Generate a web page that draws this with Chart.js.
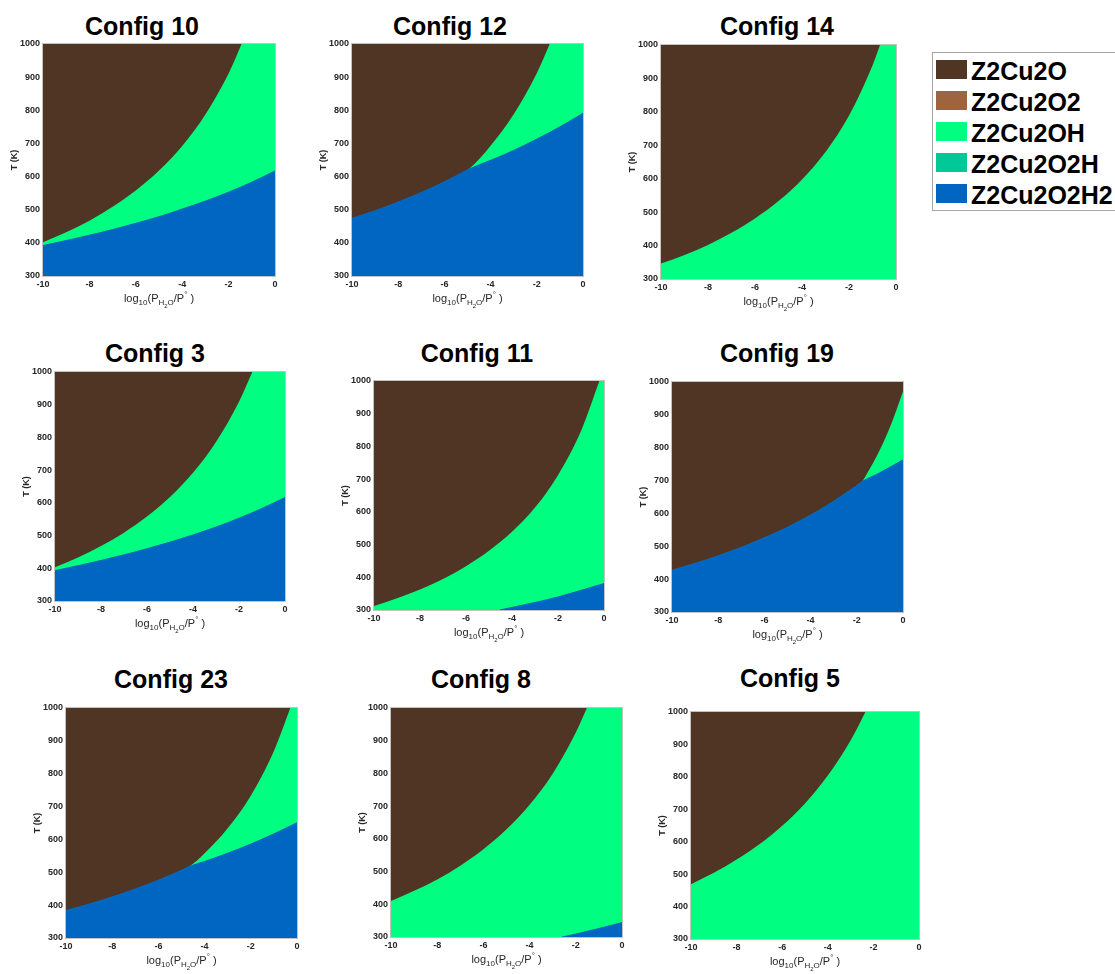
<!DOCTYPE html>
<html>
<head>
<meta charset="utf-8">
<title>Z2Cu2 phase diagrams</title>
<script src="https://cdn.jsdelivr.net/npm/chart.js"></script>
<style>
  body { margin: 0; background: #fff; width: 1115px; height: 974px; overflow: hidden; position: relative;
         font-family: "Liberation Sans", Arial, Helvetica, sans-serif; }
  canvas { position: absolute; }
  .title { position: absolute; width: 240px; text-align: center; font-weight: bold; font-size: 25px; line-height: 30px; color: #000; }
  #legend { position: absolute; left: 932px; top: 52px; width: 240px; height: 157px; border: 1px solid #a6a6a6; background: #fff; }
  .swatch { position: absolute; left: 3px; width: 31px; height: 19px; }
  .name { position: absolute; left: 38px; font-weight: bold; font-size: 25px; line-height: 30px; color: #000; white-space: nowrap; }
</style>
</head>
<body>
<div id="legend"></div>
<script>
// phases shown in the legend
const phases = ['Z2Cu2O', 'Z2Cu2O2', 'Z2Cu2OH', 'Z2Cu2O2H', 'Z2Cu2O2H2'];
const phaseColors = ['#503424', '#9e6440', '#00ff80', '#00c896', '#0066c2'];

// axis ranges
const logPRange = [-10, 0];
const tempRange = [300, 1000];

// phase boundaries, [log10(P_H2O/P°), T in K]
const c10_O_OH = [[-10, 402], [-9, 432], [-8, 467], [-7, 509], [-6, 558], [-5, 618], [-4, 692], [-3, 787], [-2, 911], [-1.44, 1000]];
const c10_OH_O2H2 = [[-10, 392], [-9, 407], [-8, 423], [-7, 440], [-6, 459], [-5, 479], [-4, 502], [-3, 526], [-2, 553], [-1, 583], [0, 617]];

const c12_O_O2H2 = [[-10, 474], [-9, 497], [-8, 523], [-7, 552], [-6, 584], [-4.96, 622]];
const c12_O_OH = [[-4.96, 622], [-4, 693], [-3, 788], [-2, 912], [-1.44, 1000]];
const c12_OH_O2H2 = [[-4.96, 622], [-4, 649], [-3, 679], [-2, 713], [-1, 750], [0, 791]];

const c14_O_OH = [[-10, 346], [-9, 372], [-8, 402], [-7, 438], [-6, 481], [-5, 533], [-4, 598], [-3, 680], [-2, 789], [-1, 939], [-0.68, 1000]];

const c3_O_OH = [[-10, 403], [-9, 433], [-8, 468], [-7, 509], [-6, 558], [-5, 618], [-4, 692], [-3, 786], [-2, 909], [-1.42, 1000]];
const c3_OH_O2H2 = [[-10, 393], [-9, 408], [-8, 424], [-7, 441], [-6, 460], [-5, 480], [-4, 502], [-3, 526], [-2, 553], [-1, 583], [0, 616]];

const c11_O_OH = [[-10, 312], [-9, 336], [-8, 363], [-7, 395], [-6, 434], [-5, 481], [-4, 539], [-3, 613], [-2, 712], [-1, 847], [-0.2, 1000]];
const c11_OH_O2H2 = [[-4.53, 300], [-4, 308], [-3, 323], [-2, 340], [-1, 360], [0, 381]];

const c19_O_O2H2 = [[-10, 427], [-9, 448], [-8, 471], [-7, 497], [-6, 526], [-5, 558], [-4, 595], [-3, 637], [-2, 685], [-1.77, 697]];
const c19_O_OH = [[-1.77, 697], [-1.5, 728], [-1, 794], [-0.5, 874], [0, 971]];
const c19_OH_O2H2 = [[-1.77, 697], [-1, 724], [0, 763]];

const c23_O_O2H2 = [[-10, 384], [-9, 403], [-8, 425], [-7, 449], [-6, 476], [-5, 506], [-4.65, 518]];
const c23_O_OH = [[-4.65, 518], [-4, 558], [-3, 634], [-2, 733], [-1, 869], [-0.29, 1000]];
const c23_OH_O2H2 = [[-4.65, 518], [-4, 533], [-3, 558], [-2, 586], [-1, 617], [0, 651]];

const c8_O_OH = [[-10, 410], [-9, 441], [-8, 476], [-7, 518], [-6, 568], [-5, 629], [-4, 704], [-3, 799], [-2, 925], [-1.52, 1000]];
const c8_OH_O2H2 = [[-2.6, 300], [-2, 309], [-1, 326], [0, 344]];

const c5_O_OH = [[-10, 469], [-9, 504], [-8, 545], [-7, 592], [-6, 649], [-5, 718], [-4, 804], [-3, 912], [-2.35, 1000]];

// join two boundaries that meet at a triple point into one edge
const join = (a, b) => a.concat(b.slice(1));

// Z2Cu2O lies above "top", Z2Cu2O2H2 below "bottom", Z2Cu2OH fills the rest
const panels = [
  { title: 'Config 10', top: c10_O_OH, bottom: c10_OH_O2H2 },
  { title: 'Config 12', top: join(c12_O_O2H2, c12_O_OH), bottom: join(c12_O_O2H2, c12_OH_O2H2) },
  { title: 'Config 14', top: c14_O_OH, bottom: null },
  { title: 'Config 3', top: c3_O_OH, bottom: c3_OH_O2H2 },
  { title: 'Config 11', top: c11_O_OH, bottom: c11_OH_O2H2 },
  { title: 'Config 19', top: join(c19_O_O2H2, c19_O_OH), bottom: join(c19_O_O2H2, c19_OH_O2H2) },
  { title: 'Config 23', top: join(c23_O_O2H2, c23_O_OH), bottom: join(c23_O_O2H2, c23_OH_O2H2) },
  { title: 'Config 8', top: c8_O_OH, bottom: c8_OH_O2H2 },
  { title: 'Config 5', top: c5_O_OH, bottom: null }
];

// page placement: plot left, right, top, bottom, title centre x, title centre y
const frames = [
  [43, 275, 44, 276, 142, 25.5],
  [352, 583, 44, 276, 450, 26],
  [661, 896, 45, 279, 777, 26],
  [55, 285, 372, 601, 155, 352.5],
  [374, 604, 381, 610, 477, 353],
  [672, 903, 382, 612, 777, 353],
  [66, 297, 708, 938, 171, 679],
  [391, 622, 708, 937, 481, 679],
  [691, 919, 712, 939, 790, 678]
];

const AXIS_W = 45, AXIS_H = 35, PAD_TOP = 10, PAD_RIGHT = 8;
const inkColor = '#262626';

// x axis title with sub/superscripts: log10(P_H2O/P°)
const pressureLabel = {
  id: 'pressureLabel',
  afterDraw(chart) {
    const { ctx, chartArea } = chart;
    const parts = [
      { t: 'log', s: 11, dy: 0 },
      { t: '10', s: 8, dy: 3 },
      { t: '(P', s: 11, dy: 0 },
      { t: 'H', s: 8, dy: 3 },
      { t: '2', s: 6, dy: 6 },
      { t: 'O', s: 8, dy: 3 },
      { t: '/P', s: 11, dy: 0 },
      { t: '°', s: 8, dy: -5 },
      { t: ' )', s: 11, dy: 0 }
    ];
    const font = s => s + 'px "Liberation Sans", Arial, sans-serif';
    ctx.save();
    let total = 0;
    parts.forEach(p => { ctx.font = font(p.s); p.w = ctx.measureText(p.t).width; total += p.w; });
    let x = (chartArea.left + chartArea.right) / 2 - total / 2;
    const base = chartArea.bottom + 26;
    ctx.fillStyle = inkColor;
    ctx.textBaseline = 'alphabetic';
    parts.forEach(p => {
      ctx.font = font(p.s);
      ctx.fillText(p.t, x, base + p.dy);
      x += p.w;
    });
    ctx.restore();
  }
};

// faint axes box
const plotFrame = {
  id: 'plotFrame',
  afterDatasetsDraw(chart) {
    const { ctx, chartArea: a } = chart;
    ctx.save();
    ctx.strokeStyle = 'rgba(170,170,170,0.7)';
    ctx.lineWidth = 1;
    ctx.strokeRect(a.left - 0.5, a.top - 0.5, a.right - a.left + 1, a.bottom - a.top + 1);
    ctx.restore();
  }
};

const toPoints = arr => arr.map(([x, y]) => ({ x, y }));

panels.forEach((panel, i) => {
  const [L, R, T, B, tx, ty] = frames[i];

  const title = document.createElement('div');
  title.className = 'title';
  title.textContent = panel.title;
  title.style.left = (tx - 120) + 'px';
  title.style.top = (ty - 14.75) + 'px';
  document.body.appendChild(title);

  const canvas = document.createElement('canvas');
  canvas.width = (R - L) + AXIS_W + PAD_RIGHT;
  canvas.height = (B - T) + PAD_TOP + AXIS_H;
  canvas.style.left = (L - AXIS_W) + 'px';
  canvas.style.top = (T - PAD_TOP) + 'px';
  document.body.appendChild(canvas);

  const datasets = [{
    label: phases[2],
    data: toPoints([[logPRange[0], tempRange[1]], [logPRange[1], tempRange[1]]]),
    fill: 'start',
    backgroundColor: phaseColors[2],
    borderWidth: 0,
    order: 10
  }, {
    label: phases[0],
    data: toPoints(panel.top),
    fill: 'end',
    backgroundColor: phaseColors[0],
    borderWidth: 0,
    order: 5
  }];
  if (panel.bottom) {
    datasets.push({
      label: phases[4],
      data: toPoints(panel.bottom),
      fill: 'start',
      backgroundColor: phaseColors[4],
      borderColor: phaseColors[4],
      borderWidth: 1,
      order: 4
    });
  }

  const tickFont = { family: '"Liberation Sans", Arial, sans-serif', size: 9, weight: 'bold' };

  new Chart(canvas, {
    type: 'line',
    data: { datasets },
    options: {
      responsive: false,
      animation: false,
      events: [],
      layout: { padding: { left: 0, top: PAD_TOP, right: PAD_RIGHT, bottom: 0 } },
      elements: { point: { radius: 0 }, line: { cubicInterpolationMode: 'monotone' } },
      plugins: { legend: { display: false }, tooltip: { enabled: false } },
      scales: {
        x: {
          type: 'linear',
          min: logPRange[0],
          max: logPRange[1],
          grid: { display: false, drawTicks: false },
          border: { display: false },
          ticks: { stepSize: 2, font: tickFont, color: inkColor, padding: 3, callback: v => String(v) },
          afterFit: s => { s.height = AXIS_H; }
        },
        y: {
          type: 'linear',
          min: tempRange[0],
          max: tempRange[1],
          grid: { display: false, drawTicks: false },
          border: { display: false },
          ticks: { stepSize: 100, font: tickFont, color: inkColor, padding: 3, callback: v => String(v) },
          title: { display: true, text: 'T (K)', color: inkColor, font: tickFont, padding: { top: 11, bottom: 0 } },
          afterFit: s => { s.width = AXIS_W; }
        }
      }
    },
    plugins: [pressureLabel, plotFrame]
  });
});

// shared legend
const legend = document.getElementById('legend');
phases.forEach((name, i) => {
  const sw = document.createElement('div');
  sw.className = 'swatch';
  sw.style.top = (7 + 31 * i) + 'px';
  sw.style.background = phaseColors[i];
  legend.appendChild(sw);
  const label = document.createElement('div');
  label.className = 'name';
  label.style.top = (2.5 + 31 * i) + 'px';
  label.textContent = name;
  legend.appendChild(label);
});
</script>
</body>
</html>
